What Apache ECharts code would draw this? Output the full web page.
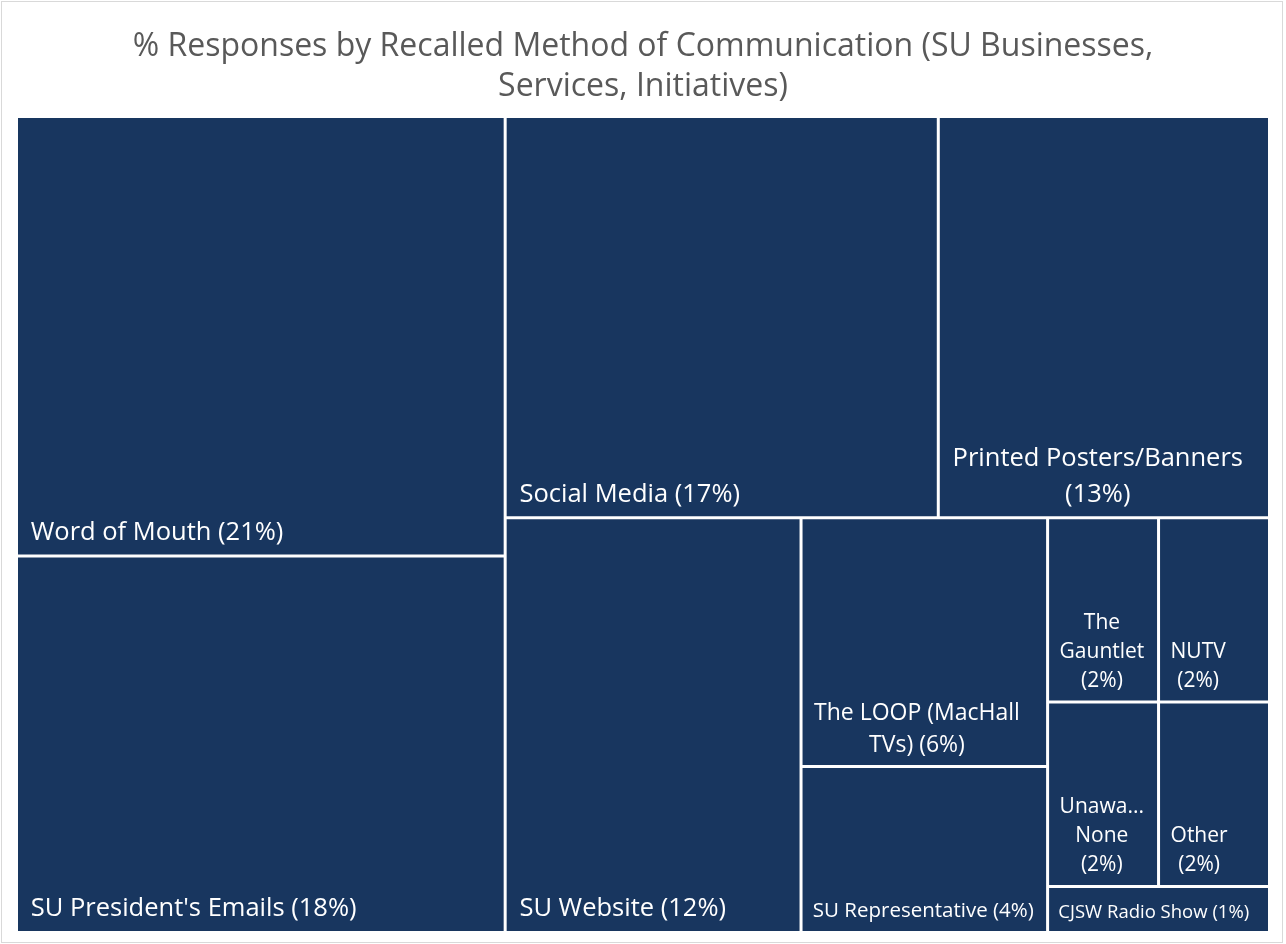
<!DOCTYPE html>
<html>
<head>
<meta charset="utf-8">
<script src="https://cdn.jsdelivr.net/npm/echarts@6/dist/echarts.min.js"></script>
<style>
html, body { margin: 0; padding: 0; background: #fff; }
#frame { position: absolute; left: 1px; top: 1px; width: 1280px; height: 940px; border: 1px solid #d9d9d9; }
#chart { position: absolute; left: 0; top: 0; width: 1286px; height: 944px; }
</style>
</head>
<body>
<div id="frame"></div>
<div id="chart"></div>
<script>
// categories and % of responses
var names = ['Word of Mouth', "SU President's Emails", 'Social Media', 'Printed Posters/Banners',
    'SU Website', 'The LOOP (MacHall TVs)', 'SU Representative', 'The Gauntlet', 'NUTV',
    'Unaware/None', 'Other', 'CJSW Radio Show'];
var values = [21, 18, 17, 13, 12, 6, 4, 2, 2, 2, 2, 1];

var FAMILY = '"Open Sans"';
var BOX = '#18365f';

// Excel shrinks the label text in the smaller boxes
function fontSizeFor(name, v) {
    if (name === 'The LOOP (MacHall TVs)') return 23;
    if (name === 'SU Representative') return 20.5;
    if (name === 'CJSW Radio Show') return 18.5;
    if (v <= 2) return 21;
    return 25.5;
}

var option = {
    title: {
        text: '% Responses by Recalled Method of Communication (SU Businesses,\nServices, Initiatives)',
        left: 'center',
        top: 22,
        textStyle: { color: '#595959', fontSize: 32, fontWeight: 'normal', lineHeight: 40, fontFamily: FAMILY }
    },
    series: [{
        type: 'treemap',
        left: 18,
        top: 118,
        right: 18,
        bottom: 13,
        squareRatio: 1,
        sort: false,
        roam: false,
        nodeClick: false,
        breadcrumb: { show: false },
        animation: false,
        label: { show: false },
        emphasis: { disabled: true },
        levels: [
            { color: [BOX], itemStyle: { borderWidth: 0, gapWidth: 3 } },
            { itemStyle: { color: BOX, borderWidth: 0 } }
        ],
        data: names.map(function (n, i) {
            return { name: n, value: values[i] };
        })
    }]
};

var chart = echarts.init(document.getElementById('chart'));
chart.setOption(option);

// labels: wrapped like Excel, sitting at the bottom-left of each box,
// with the lines of a wrapped label centred on each other
var ctx = document.createElement('canvas').getContext('2d');
function measure(t) { return ctx.measureText(t).width; }

function wrapLabel(text, avail) {
    // break at spaces and after '/'
    var words = [], seps = [];
    text.split(' ').forEach(function (w, wi) {
        var parts = w.split('/');
        parts.forEach(function (p, pi) {
            if (pi < parts.length - 1) p += '/';
            if (p === '') return;
            words.push(p);
            seps.push(pi === 0 && wi > 0 ? ' ' : '');
        });
    });
    var lines = [], line = '';
    words.forEach(function (w, i) {
        var cand = line ? line + seps[i] + w : w;
        if (!line || measure(cand) <= avail) line = cand;
        else { lines.push(line); line = w; }
    });
    if (line) lines.push(line);
    return lines.map(function (l) {
        if (measure(l) <= avail) return l;
        var s = l;
        while (s.length > 1 && measure(s + '...') > avail) s = s.slice(0, -1);
        return s + '...';
    });
}

var seriesModel = chart.getModel().getSeriesByIndex(0);
var info = seriesModel.layoutInfo || { x: 18, y: 118 };
var texts = [];
seriesModel.getViewRoot().children.forEach(function (node) {
    var lay = node.getLayout();
    var v = node.getValue();
    var fs = fontSizeFor(node.name, v);
    ctx.font = fs + 'px ' + FAMILY;
    var padL = 0.5 * fs, padR = 0.3 * fs, padB = fs >= 23 ? 4 : 5.5;
    var lines = wrapLabel(node.name + ' (' + v + '%)', lay.width - padL - padR);
    var blockW = Math.max.apply(null, lines.map(measure));
    var multi = lines.length > 1;
    texts.push({
        type: 'text',
        silent: true,
        z: 100,
        x: info.x + lay.x + padL + (multi ? blockW / 2 : 0),
        y: info.y + lay.y + lay.height - padB,
        style: {
            text: lines.join('\n'),
            fill: '#fff',
            font: fs + 'px ' + FAMILY,
            lineHeight: Math.round(fs * 1.4),
            align: multi ? 'center' : 'left',
            verticalAlign: 'bottom'
        }
    });
});
chart.setOption({ graphic: { elements: texts } });
</script>
</body>
</html>
